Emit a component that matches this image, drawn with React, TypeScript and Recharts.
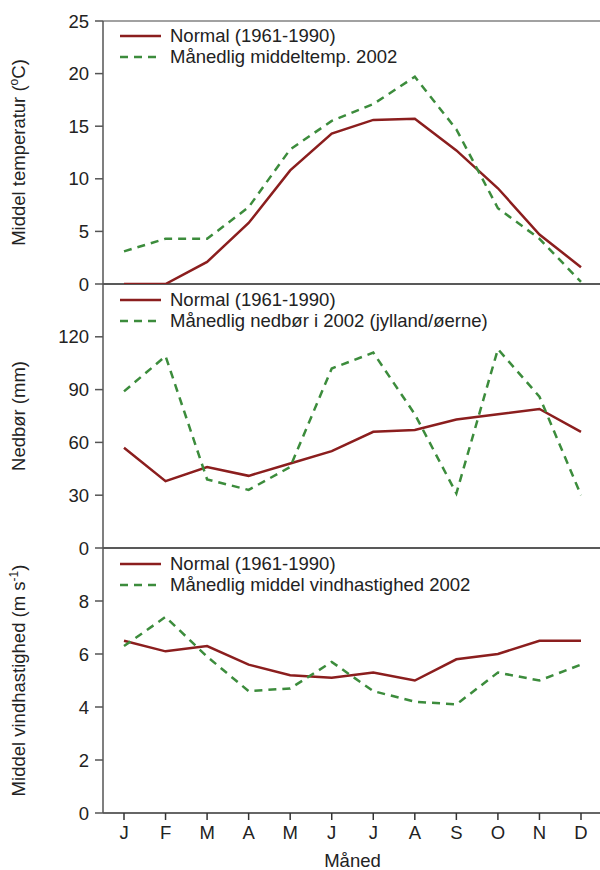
import React from 'react';
import { LineChart, Line, XAxis, YAxis, ReferenceLine, Legend, Label } from 'recharts';

const months = ['J', 'F', 'M', 'A', 'M', 'J', 'J', 'A', 'S', 'O', 'N', 'D'];

const tempNormal = [0, 0, 2.1, 5.8, 10.8, 14.3, 15.6, 15.7, 12.7, 9.1, 4.7, 1.6];
const temp2002 = [3.1, 4.3, 4.3, 7.3, 12.8, 15.5, 17.1, 19.7, 14.7, 7.2, 4.3, 0.2];

const precNormal = [57, 38, 46, 41, 48, 55, 66, 67, 73, 76, 79, 66];
const prec2002 = [89, 109, 39, 33, 46, 102, 111, 76, 31, 113, 86, 30];

const windNormal = [6.5, 6.1, 6.3, 5.6, 5.2, 5.1, 5.3, 5.0, 5.8, 6.0, 6.5, 6.5];
const wind2002 = [6.3, 7.4, 5.9, 4.6, 4.7, 5.7, 4.6, 4.2, 4.1, 5.3, 5.0, 5.6];

const tempTicks = [0, 5, 10, 15, 20, 25];
const precTicks = [0, 30, 60, 90, 120];
const windTicks = [0, 2, 4, 6, 8];

const normalLabel = 'Normal (1961-1990)';
const tempLabel = 'Månedlig middeltemp. 2002';
const precLabel = 'Månedlig nedbør i 2002 (jylland/øerne)';
const windLabel = 'Månedlig middel vindhastighed 2002';
const xTitle = 'Måned';

const RED = '#8b1e1e';
const GREEN = '#3c8c3c';
const TEXT = '#222';
const AXIS = '#555';
const FONT = '"Liberation Sans", Arial, Helvetica, sans-serif';
const FS = 18.5;

const build = (a: number[], b: number[]) => months.map((m, i) => ({ m, normal: a[i], y2002: b[i] }));
const tempData = build(tempNormal, temp2002);
const precData = build(precNormal, prec2002);
const windData = build(windNormal, wind2002);

const W = 602;
const H = 870;

function LegendContent({ second }: { second: string }) {
  const row = (dash: boolean, color: string, text: string) => (
    <div style={{ display: 'flex', alignItems: 'center', height: 21, whiteSpace: 'nowrap' }}>
      <svg width={50} height={10} style={{ display: 'block' }}>
        <line x1={0} y1={5} x2={41} y2={5} stroke={color} strokeWidth={2.5} strokeDasharray={dash ? '8 6' : undefined} />
      </svg>
      <span style={{ fontFamily: FONT, fontSize: FS, color: TEXT, lineHeight: '21px' }}>{text}</span>
    </div>
  );
  return (
    <div style={{ textAlign: 'left' }}>
      {row(false, RED, normalLabel)}
      {row(true, GREEN, second)}
    </div>
  );
}

function YTitle(props: any) {
  const { viewBox, parts } = props;
  const cy = viewBox.y + viewBox.height / 2;
  const x = 25;
  return (
    <text
      x={x}
      y={cy}
      transform={`rotate(-90, ${x}, ${cy})`}
      textAnchor="middle"
      fill={TEXT}
      fontSize={FS}
      fontFamily={FONT}
    >
      {parts.map((p: any, i: number) =>
        p.sup ? (
          <tspan key={i} fontSize={12} dy={-7}>{p.t}</tspan>
        ) : (
          <tspan key={i} dy={i > 0 && parts[i - 1].sup ? 7 : 0}>{p.t}</tspan>
        )
      )}
    </text>
  );
}

const tickStyle = { fontSize: FS, fill: TEXT, fontFamily: FONT };

function Panel({
  data,
  top,
  bottom,
  domain,
  ticks,
  legendText,
  legendTop,
  title,
  showX,
  topLine,
}: any) {
  return (
    <div style={{ position: 'absolute', left: 0, top: 0 }}>
      <LineChart width={W} height={H} data={data} margin={{ top, right: 0, bottom, left: 0 }}>
        <XAxis
          dataKey="m"
          hide={!showX}
          padding={{ left: 21, right: 21 }}
          height={57}
          tick={tickStyle}
          tickSize={7}
          tickMargin={6}
          axisLine={{ stroke: '#333', strokeWidth: 1.5 }}
          tickLine={{ stroke: '#333', strokeWidth: 1.5 }}
          interval={0}
        >
          {showX ? (
            <Label value={xTitle} position="insideBottom" offset={3} fill={TEXT} fontSize={FS} fontFamily={FONT} />
          ) : null}
        </XAxis>
        <YAxis
          type="number"
          domain={domain}
          ticks={ticks}
          width={103}
          tick={tickStyle}
          tickSize={8}
          tickMargin={6}
          axisLine={{ stroke: AXIS, strokeWidth: 1.5 }}
          tickLine={{ stroke: AXIS, strokeWidth: 1.5 }}
          allowDataOverflow
          label={{ content: (p: any) => <YTitle {...p} parts={title} /> }}
        />
        {topLine ? <ReferenceLine y={domain[1]} stroke="#444" strokeWidth={1.2} /> : null}
        {!showX ? <ReferenceLine y={0} stroke="#222" strokeWidth={1.5} /> : null}
        <Legend
          layout="horizontal"
          verticalAlign="middle"
          align="center"
          content={() => <LegendContent second={legendText} />}
          wrapperStyle={{ top: legendTop, left: 120, width: 470, height: 42 }}
        />
        <Line
          type="linear"
          dataKey="normal"
          stroke={RED}
          strokeWidth={2.5}
          dot={false}
          isAnimationActive={false}
        />
        <Line
          type="linear"
          dataKey="y2002"
          stroke={GREEN}
          strokeWidth={2.5}
          strokeDasharray="8 6"
          dot={false}
          isAnimationActive={false}
        />
      </LineChart>
    </div>
  );
}

export default function App() {
  return (
    <div
      style={{
        position: 'absolute',
        left: 0,
        top: 0,
        width: 600,
        height: 870,
        overflow: 'hidden',
        background: '#fff',
        fontFamily: FONT,
      }}
    >
      <Panel
        data={tempData}
        top={21}
        bottom={H - 284}
        domain={[0, 25]}
        ticks={tempTicks}
        legendText={tempLabel}
        legendTop={25}
        title={[{ t: 'Middel temperatur (' }, { t: 'o', sup: true }, { t: 'C)' }]}
        showX={false}
        topLine
      />
      <Panel
        data={precData}
        top={284}
        bottom={H - 548}
        domain={[0, 150]}
        ticks={precTicks}
        legendText={precLabel}
        legendTop={289}
        title={[{ t: 'Nedbør (mm)' }]}
        showX={false}
      />
      <Panel
        data={windData}
        top={548}
        bottom={0}
        domain={[0, 10]}
        ticks={windTicks}
        legendText={windLabel}
        legendTop={553}
        title={[{ t: 'Middel vindhastighed (m s' }, { t: '-1', sup: true }, { t: ')' }]}
        showX
      />
    </div>
  );
}
